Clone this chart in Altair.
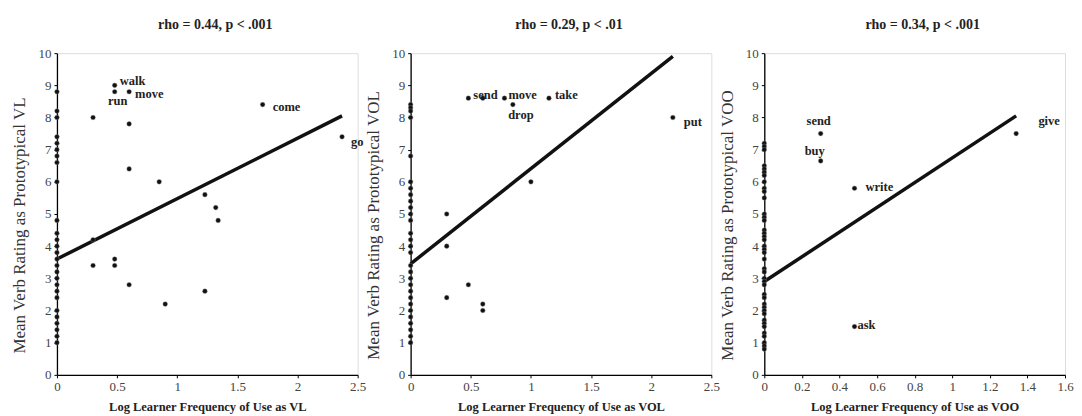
import altair as alt
import pandas as pd

# ---------------- data ----------------
# Panel 1: VL
vl_zero_y = [8.8, 8.2, 8.0, 7.4, 7.2, 7.0, 6.8, 6.6, 6.0, 4.8, 4.4, 4.2, 4.0, 3.8, 3.6,
             3.4, 3.2, 3.0, 2.8, 2.6, 2.4, 2.0, 1.8, 1.6, 1.4, 1.2, 1.0]
vl_x = [0.30, 0.48, 0.48, 0.60, 0.60, 0.60, 0.85, 1.23, 1.32, 1.34, 1.71, 2.37,
        0.30, 0.30, 0.48, 0.48, 0.60, 0.90, 1.23]
vl_y = [8.0, 9.0, 8.8, 8.8, 7.8, 6.4, 6.0, 5.6, 5.2, 4.8, 8.4, 7.4,
        4.2, 3.4, 3.6, 3.4, 2.8, 2.2, 2.6]
vl_lab = ["", "walk", "run", "move", "", "", "", "", "", "", "come", "go",
          "", "", "", "", "", "", ""]
vl_reg_x = [0.0, 2.37]
vl_reg_y = [3.6, 8.05]

# Panel 2: VOL
vol_zero_y = [8.4, 8.3, 8.2, 8.0, 6.8, 6.0, 5.8, 5.6, 5.4, 5.2, 5.0, 4.8, 4.4, 4.2, 4.0, 3.8,
              3.4, 3.2, 3.0, 2.8, 2.6, 2.4, 2.2, 2.0, 1.8, 1.6, 1.4, 1.2, 1.0]
vol_x = [0.48, 0.60, 0.78, 0.85, 1.15, 2.18, 1.00, 0.30, 0.30, 0.30, 0.48, 0.60, 0.60]
vol_y = [8.6, 8.6, 8.6, 8.4, 8.6, 8.0, 6.0, 5.0, 4.0, 2.4, 2.8, 2.2, 2.0]
vol_lab = ["send", "", "move", "drop", "take", "put", "", "", "", "", "", "", ""]
vol_reg_x = [0.0, 2.18]
vol_reg_y = [3.45, 9.9]

# Panel 3: VOO
voo_zero_y = [7.2, 7.1, 7.0, 6.5, 6.4, 6.3, 6.2, 6.0, 5.8, 5.7, 5.5, 5.0, 4.9, 4.8, 4.5, 4.4,
              4.3, 4.2, 4.0, 3.9, 3.8, 3.6, 3.3, 3.2, 3.0, 2.9, 2.8, 2.5, 2.4, 2.2, 2.1, 2.0,
              1.9, 1.7, 1.6, 1.5, 1.3, 1.2, 1.0, 0.9, 0.8]
voo_x = [0.30, 0.30, 0.48, 0.48, 1.34]
voo_y = [7.5, 6.65, 5.8, 1.5, 7.5]
voo_lab = ["send", "buy", "write", "ask", "give"]
voo_reg_x = [0.0, 1.34]
voo_reg_y = [2.9, 8.05]

titles = ["rho = 0.44, p < .001", "rho = 0.29, p < .01", "rho = 0.34, p < .001"]
x_titles = ["Log Learner Frequency of Use as VL", "Log Learner Frequency of Use as VOL",
            "Log Learner Frequency of Use as VOO"]
y_titles = ["Mean Verb Rating as Prototypical VL", "Mean Verb Rating as Prototypical VOL",
            "Mean Verb Rating as Prototypical VOO"]
x_domains = [[0, 2.5], [0, 2.5], [0, 1.6]]
x_ticks = [[0, 0.5, 1, 1.5, 2, 2.5], [0, 0.5, 1, 1.5, 2, 2.5],
           [0, 0.2, 0.4, 0.6, 0.8, 1, 1.2, 1.4, 1.6]]
y_ticks = list(range(0, 11))

# label placement styles (alignment, dx, dy in pixels)
label_style = {
    0: {"walk": ("left", 5, -4), "run": ("center", 3, 9), "move": ("left", 6, 2),
        "come": ("left", 10, 2), "go": ("left", 9, 5)},
    1: {"send": ("left", 5, -3), "move": ("left", 4, -3), "take": ("left", 6, -3),
        "drop": ("center", 8, 10), "put": ("left", 11, 5)},
    2: {"send": ("center", -2, -13), "buy": ("center", -6, -10), "write": ("left", 11, -1),
        "ask": ("left", 3, -2), "give": ("center", 33, -13)},
}

SERIF = "Liberation Serif"
W = 301
H = 322


def panel(i, zero_y, xs, ys, labs, reg_x, reg_y):
    pts = pd.DataFrame({
        "x": [0.0] * len(zero_y) + xs,
        "y": zero_y + ys,
        "label": [""] * len(zero_y) + labs,
    })
    reg = pd.DataFrame({"x": reg_x, "y": reg_y})
    xenc = alt.X("x:Q",
                 scale=alt.Scale(domain=x_domains[i], nice=False, zero=False),
                 axis=alt.Axis(title=x_titles[i], values=x_ticks[i], format="~g",
                               titleFont=SERIF, titleFontSize=12.5, titleFontWeight="bold",
                               titleColor="#222", titlePadding=7,
                               labelFont=SERIF, labelFontSize=13, labelColor="#444",
                               labelPadding=3, labelFlush=False, labelOverlap=False,
                               domainColor="#000", domainWidth=1.3, tickColor="#000",
                               tickSize=3, grid=False))
    yenc = alt.Y("y:Q",
                 scale=alt.Scale(domain=[0, 10], nice=False),
                 axis=alt.Axis(title=y_titles[i], values=y_ticks, labelOverlap=False,
                               titleFont=SERIF, titleFontSize=17, titleFontWeight="normal",
                               titleColor="#333", titlePadding=9, titleY=172,
                               labelFont=SERIF, labelFontSize=13, labelColor="#444",
                               labelPadding=3,
                               domainColor="#000", domainWidth=1.3, tickColor="#000",
                               tickSize=3, grid=False))
    line = alt.Chart(reg).mark_line(color="#111", strokeWidth=3.5).encode(x=xenc, y=yenc)
    points = alt.Chart(pts).mark_circle(size=22, color="#111", opacity=1,
                                        stroke="#888", strokeWidth=0.4).encode(x=xenc, y=yenc)
    layers = [line, points]
    for lab, (align, dx, dy) in label_style[i].items():
        sub = pts[pts["label"] == lab]
        layers.append(
            alt.Chart(sub).mark_text(align=align, baseline="middle", dx=dx, dy=dy,
                                     font=SERIF, fontSize=12.5, fontWeight="bold",
                                     color="#222").encode(x=xenc, y=yenc, text="label:N")
        )
    return alt.layer(*layers).properties(
        width=W, height=H,
        title=alt.TitleParams(titles[i], font=SERIF, fontSize=14, fontWeight="bold",
                              color="#222", offset=15, dx=8, anchor="middle"),
    )


p1 = panel(0, vl_zero_y, vl_x, vl_y, vl_lab, vl_reg_x, vl_reg_y)
p2 = panel(1, vol_zero_y, vol_x, vol_y, vol_lab, vol_reg_x, vol_reg_y)
p3 = panel(2, voo_zero_y, voo_x, voo_y, voo_lab, voo_reg_x, voo_reg_y)

chart = alt.hconcat(p1, p2, p3, spacing=53, bounds="flush").resolve_scale(
    x="independent", y="independent"
).properties(
    padding={"left": 2, "top": 9, "right": 0, "bottom": 0}
).configure_view(stroke="#999", strokeWidth=1).configure(background="white")

chart.save("out.html", embed_options={"renderer": "svg", "actions": False})
